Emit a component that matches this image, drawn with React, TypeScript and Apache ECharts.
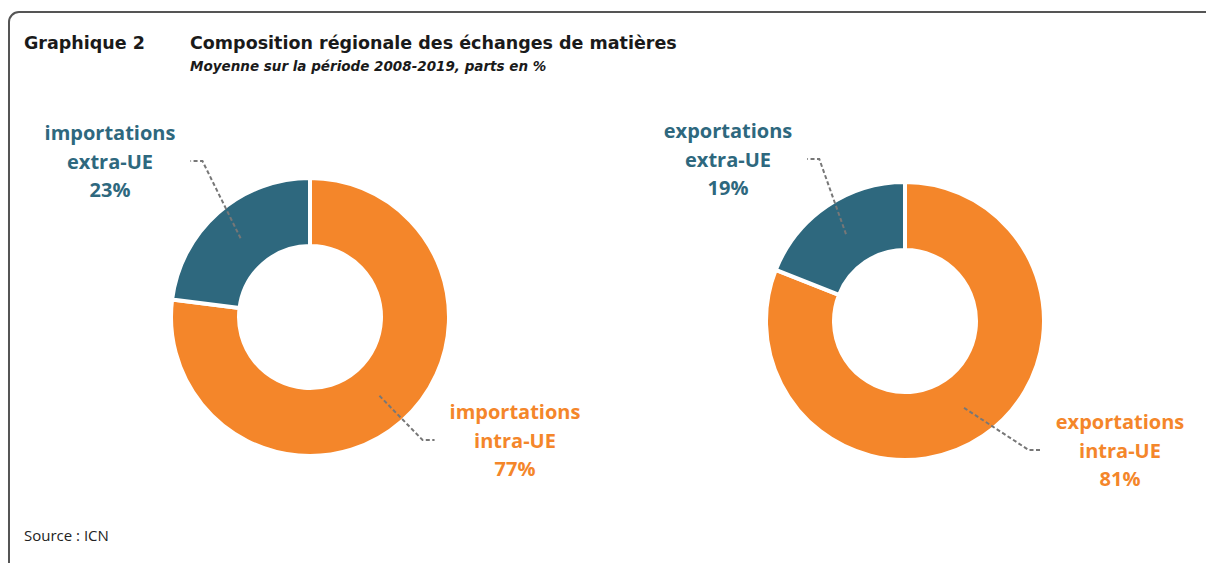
import React, { useEffect, useRef } from "react";
import * as echarts from "echarts";

// ---- data ----
const categories = ["intra-UE", "extra-UE"];
const flows = ["importations", "exportations"];
const importShares = [77, 23];
const exportShares = [81, 19];
const seriesValues = [importShares, exportShares];

const titleNumber = "Graphique 2";
const titleText = "Composition régionale des échanges de matières";
const subtitleText = "Moyenne sur la période 2008-2019, parts en %";
const sourceText = "Source : ICN";

// ---- layout / style ----
const TEAL = "#2E687E";
const ORANGE = "#F4862A";
const COLORS = [ORANGE, TEAL];
const PIE_CENTERS = [
  [310, 317],
  [905, 321],
];
const BORDER = 4;
const IN_R = 73;
const OUT_R = 137;
// label centre offsets from pie centre, per pie / per slice
const LABEL_OFFSETS = [
  [
    [205, 123],
    [-200, -156],
  ],
  [
    [215, 129],
    [-177, -162],
  ],
];
const LABEL_FONT = "Open Sans";
const TITLE_FONT = "DejaVu Sans";

function buildOption() {
  // visible donuts
  const donuts = seriesValues.map((vals, s) => ({
    type: "pie",
    z: 2,
    center: PIE_CENTERS[s],
    radius: [IN_R - BORDER / 2, OUT_R + BORDER / 2],
    startAngle: 90,
    clockwise: true,
    silent: true,
    itemStyle: { borderColor: "#ffffff", borderWidth: BORDER },
    label: { show: false },
    labelLine: { show: false },
    emphasis: { disabled: true },
    data: categories.map((c, k) => ({
      name: c,
      value: vals[k],
      itemStyle: { color: COLORS[k] },
    })),
  }));

  // transparent overlay carrying labels and leader lines drawn over the donuts
  const labelled = seriesValues.map((vals, s) => {
    const total = vals.reduce((a, b) => a + b, 0);
    return {
      type: "pie",
      z: 5,
      center: PIE_CENTERS[s],
      radius: [IN_R, OUT_R],
      startAngle: 90,
      clockwise: true,
      silent: true,
      avoidLabelOverlap: false,
      itemStyle: { color: "rgba(0,0,0,0)", borderWidth: 0 },
      label: {
        show: true,
        position: "outside",
        fontFamily: LABEL_FONT,
        fontWeight: "bold",
        fontSize: 20,
        lineHeight: 28.5,
        align: "center",
        formatter: (p: any) => `${flows[s]}\n${p.name}\n${p.value}%`,
      },
      labelLine: {
        show: true,
        lineStyle: { color: "#777777", width: 2, type: [4, 2.5] },
      },
      labelLayout: (p: any) => {
        const i = p.dataIndex;
        let before = 0;
        for (let j = 0; j < i; j++) before += vals[j];
        const mid = ((before + vals[i] / 2) / total) * Math.PI * 2;
        const dx = Math.sin(mid);
        const dy = -Math.cos(mid);
        const [cx, cy] = PIE_CENTERS[s];
        const rm = (IN_R + OUT_R) / 2;
        const start = [cx + dx * rm, cy + dy * rm];
        const [ox, oy] = LABEL_OFFSETS[s][i];
        const lx = cx + ox;
        const ly = cy + oy;
        const half = p.labelRect.width / 2;
        const side = ox < 0 ? 1 : -1;
        const end = [lx + side * (half + 15), ly];
        const elbow = [end[0] + side * 12, ly];
        return {
          x: lx,
          y: ly,
          align: "center",
          verticalAlign: "middle",
          labelLinePoints: [start, elbow, end],
        };
      },
      emphasis: { disabled: true },
      data: categories.map((c, k) => ({
        name: c,
        value: vals[k],
        label: { color: COLORS[k] },
      })),
    };
  });

  return {
    animation: false,
    backgroundColor: "#ffffff",
    title: [
      {
        text: titleNumber,
        left: 24,
        top: 34,
        padding: 0,
        textStyle: { fontFamily: TITLE_FONT, fontWeight: "bold", fontSize: 17.5, color: "#1a1a1a" },
      },
      {
        text: titleText,
        left: 190,
        top: 34,
        padding: 0,
        textStyle: { fontFamily: TITLE_FONT, fontWeight: "bold", fontSize: 17.5, color: "#1a1a1a" },
      },
      {
        text: subtitleText,
        left: 190,
        top: 59,
        padding: 0,
        textStyle: {
          fontFamily: TITLE_FONT,
          fontWeight: "bold",
          fontStyle: "italic",
          fontSize: 13.5,
          color: "#1a1a1a",
        },
      },
      {
        text: sourceText,
        left: 24,
        top: 527,
        padding: 0,
        textStyle: { fontFamily: "Open Sans", fontWeight: "normal", fontSize: 15, color: "#222222" },
      },
    ],
    graphic: [
      {
        type: "rect",
        silent: true,
        shape: { x: 9, y: 12, width: 1400, height: 800, r: 10 },
        style: { fill: "none", stroke: "#555555", lineWidth: 2 },
      },
    ],
    series: [...donuts, ...labelled],
  };
}

export default function App() {
  const ref = useRef<HTMLDivElement>(null);
  useEffect(() => {
    if (!ref.current) return;
    const chart = echarts.init(ref.current, null, { renderer: "svg" });
    chart.setOption(buildOption() as any);
    return () => chart.dispose();
  }, []);
  return (
    <div
      ref={ref}
      style={{ position: "absolute", left: 0, top: 0, width: 1206, height: 563 }}
    />
  );
}
